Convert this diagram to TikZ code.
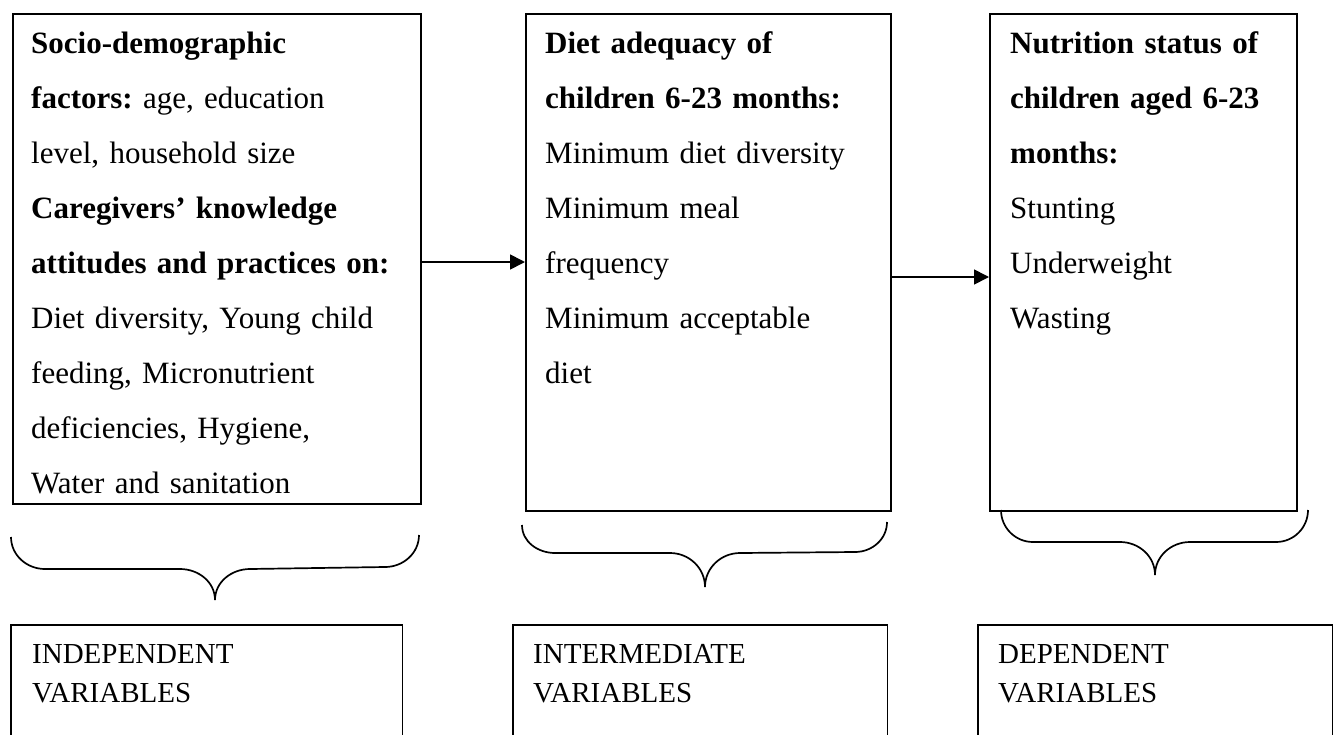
\documentclass[tikz,border=0pt]{standalone}
\usepackage{fontspec}
\setmainfont{Liberation Serif}
\usetikzlibrary{arrows.meta}
\frenchspacing
\begin{document}
\begin{tikzpicture}[x=1pt,y=-1pt,
  boxline/.style={line width=1.7pt},
  bigbox/.style={draw,boxline,rectangle,inner sep=0pt,anchor=north west},
  txt/.style={anchor=base west,inner sep=0pt,align=left,text width=#1,
    font=\fontsize{31pt}{55pt}\selectfont\frenchspacing},
  lowtxt/.style={anchor=base west,inner sep=0pt,align=left,text width=#1,
    font=\fontsize{29pt}{39pt}\selectfont\frenchspacing},
  area/.style={rectangle,inner sep=0pt,anchor=north west},
  bracepath/.style={line width=1.7pt},
  arr/.style={line width=1.7pt,-{Triangle[length=15pt,width=15pt]}}]
\useasboundingbox (0,0) rectangle (1339,734);
\fill[white] (0,0) rectangle (1339,734);

% upper boxes
\node[bigbox,minimum width=408pt,minimum height=490pt] (b1) at (12,13) {};
\node[bigbox,minimum width=365pt,minimum height=497pt] (b2) at (525,13) {};
\node[bigbox,minimum width=307pt,minimum height=497pt] (b3) at (989,13) {};

\node[txt=388pt] (t1) at (31,53) {\textbf{Socio-demographic}\\
\textbf{factors:} age, education\\
level, household size\\
\textbf{Caregivers’ knowledge}\\
\textbf{attitudes and practices on:}\\
Diet diversity, Young child\\
feeding, Micronutrient\\
deficiencies, Hygiene,\\
Water and sanitation};

\node[txt=345pt] (t2) at (545,53) {\textbf{Diet adequacy of}\\
\textbf{children 6-23 months:}\\
Minimum diet diversity\\
Minimum meal\\
frequency\\
Minimum acceptable\\
diet};

\node[txt=285pt] (t3) at (1010,53) {\textbf{Nutrition status of}\\
\textbf{children aged 6-23}\\
\textbf{months:}\\
Stunting\\
Underweight\\
Wasting};

% arrows
\coordinate (a1) at (0,262);
\coordinate (a2) at (0,277);
\draw[arr] (b1.east |- a1) -- (b2.west |- a1);
\draw[arr] (b2.east |- a2) -- (b3.west |- a2);

% braces
\draw[bracepath] (11,537) to[out=-90,in=180] (45,569) -- (180,569)
  to[out=0,in=90] (215,600) to[out=90,in=180] (250,569) -- (385,567)
  to[out=0,in=-90] (419,535);
\draw[bracepath] (522,525) to[out=-90,in=180] (555,553) -- (670,553)
  to[out=0,in=90] (705,587) to[out=90,in=180] (740,553) -- (855,552)
  to[out=0,in=-90] (887,522);
\draw[bracepath] (1001,510) to[out=-90,in=180] (1033,542) -- (1120,542)
  to[out=0,in=90] (1155,575) to[out=90,in=180] (1190,542) -- (1276,542)
  to[out=0,in=-90] (1308,510);

% lower boxes (open at the bottom)
\node[area,minimum width=391pt,minimum height=112pt] (v1) at (11,625) {};
\node[area,minimum width=374pt,minimum height=112pt] (v2) at (513,625) {};
\node[area,minimum width=354pt,minimum height=112pt] (v3) at (978,625) {};
\draw[boxline] (v1.south west) -- (v1.north west) -- (v1.north east) -- (v1.south east);
\draw[boxline] (v2.south west) -- (v2.north west) -- (v2.north east) -- (v2.south east);
\draw[boxline] (v3.south west) -- (v3.north west) -- (v3.north east) -- (v3.south east);

\node[lowtxt=350pt] (l1) at (32,663) {INDEPENDENT\\VARIABLES};
\node[lowtxt=340pt] (l2) at (533,663) {INTERMEDIATE\\VARIABLES};
\node[lowtxt=320pt] (l3) at (998,663) {DEPENDENT\\VARIABLES};
\end{tikzpicture}
\end{document}
